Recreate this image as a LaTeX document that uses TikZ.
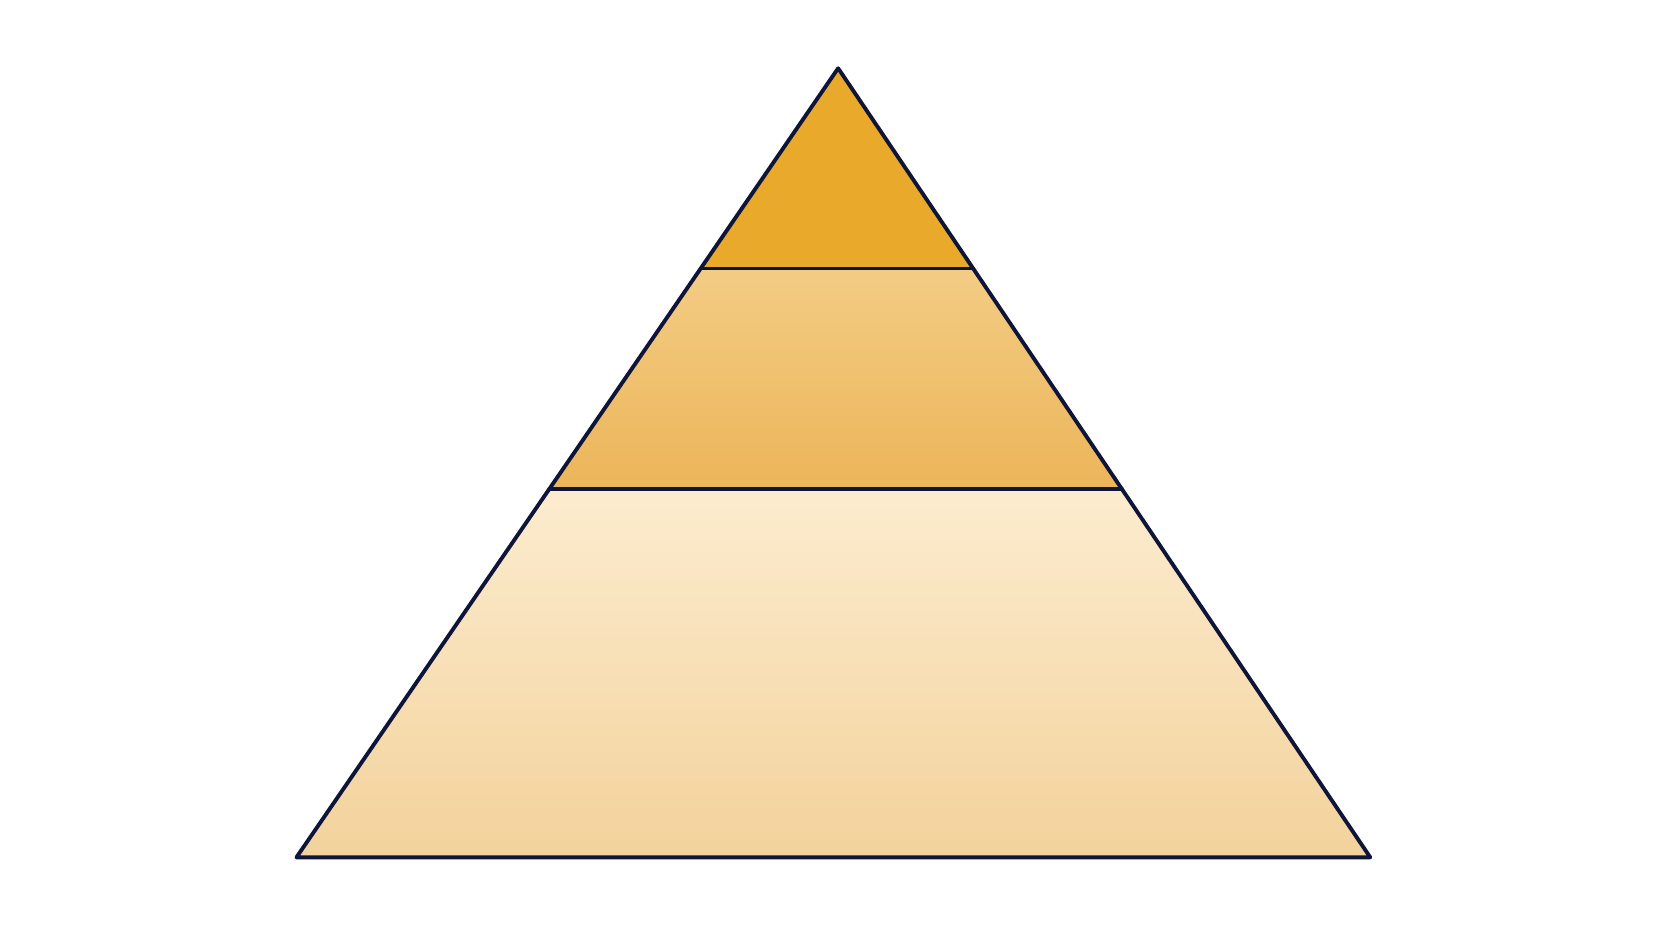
\documentclass[tikz,border=0pt]{standalone}
\usetikzlibrary{calc}
\definecolor{outline}{HTML}{0F1538}
\definecolor{goldtop}{HTML}{E9AA2C}
\definecolor{midhi}{HTML}{F3CC84}
\definecolor{midlo}{HTML}{ECB559}
\definecolor{basehi}{HTML}{FCECCF}
\definecolor{baselo}{HTML}{F3D29B}
\begin{document}
\begin{tikzpicture}[x=0.021327cm, y=-0.021327cm]
    % Define styles
    \tikzset{
        tierline/.style={draw=outline, line width=2.2pt, line join=round, line cap=round},
    }
    \useasboundingbox[fill=white] (0,0) rectangle (1568,882.5);

    % Corners of the pyramid
    \coordinate (apex) at (786,64);
    \coordinate (baseL) at (278,804);
    \coordinate (baseR) at (1285,804);
    \coordinate (upL) at ($(apex)!0.2537!(baseL)$);
    \coordinate (upR) at ($(apex)!0.2537!(baseR)$);
    \coordinate (lowL) at ($(apex)!0.5331!(baseL)$);
    \coordinate (lowR) at ($(apex)!0.5331!(baseR)$);

    % Tiers
    \fill[goldtop] (apex) -- (upR) -- (upL) -- cycle;
    \shade[top color=midhi, bottom color=midlo] (upL) -- (upR) -- (lowR) -- (lowL) -- cycle;
    \shade[top color=basehi, bottom color=baselo] (lowL) -- (lowR) -- (baseR) -- (baseL) -- cycle;

    % Outline and dividers
    \draw[tierline] (apex) -- (baseR) -- (baseL) -- cycle;
    \draw[tierline] (upL) -- (upR);
    \draw[tierline] (lowL) -- (lowR);
\end{tikzpicture}
\end{document}
